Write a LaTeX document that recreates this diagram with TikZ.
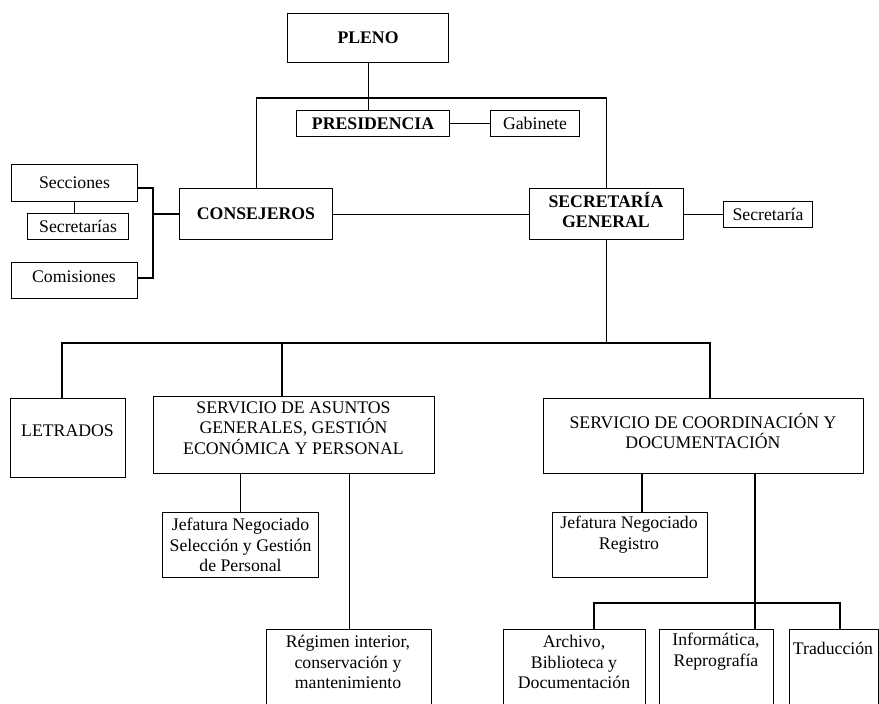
\documentclass[tikz,border=0pt]{standalone}
\usepackage{fontspec}
\setmainfont{Liberation Serif}
\edef\px{0.025cm}

\begin{document}
\begin{tikzpicture}[x=\px, y=-\px,
  font=\fontsize{12.6}{14.7}\selectfont,
  box/.style={draw, line width=0.75pt, inner sep=0pt, anchor=north west, align=center},
  lbl/.style={align=center, inner sep=0pt},
  link/.style={line width=0.75pt}]
  \useasboundingbox (0,0) rectangle (879,703);
  \clip (0,0) rectangle (879,703);

  % the top of the chart
  \node[box, minimum width=161*\px, minimum height=49*\px] (pleno) at (287,13) {\textbf{PLENO}};
  \node[box, minimum width=153*\px, minimum height=26*\px] (pres) at (296,110) {\textbf{PRESIDENCIA}};
  \node[box, minimum width=89*\px, minimum height=26*\px] (gab) at (490,110) {Gabinete};
  \node[box, minimum width=153*\px, minimum height=51*\px] (cons) at (179,188) {\textbf{CONSEJEROS}};
  \node[box, minimum width=154*\px, minimum height=51*\px] (sg) at (529,188) {};
  \node[lbl] (sg-t) at (606,210) {\textbf{SECRETARÍA}\\\textbf{GENERAL}};
  \node[box, minimum width=89*\px, minimum height=26*\px] (secr) at (723,201) {Secretaría};

  % the group on the left
  \node[box, minimum width=126*\px, minimum height=37*\px] (secc) at (11,164) {Secciones};
  \node[box, minimum width=101*\px, minimum height=26*\px] (secs) at (27,213) {Secretarías};
  \node[box, minimum width=126*\px, minimum height=36*\px] (comi) at (11,262) {};
  \node[lbl] (comi-t) at (74,277) {Comisiones};

  % the services
  \node[box, minimum width=115*\px, minimum height=79*\px] (letr) at (10,398) {};
  \node[lbl] (letr-t) at (67.5,431) {LETRADOS};
  \node[box, minimum width=281*\px, minimum height=77*\px] (sag) at (153,396) {};
  \node[lbl] (sag-t) at (293.5,428) {SERVICIO DE ASUNTOS\\GENERALES, GESTIÓN\\ECONÓMICA Y PERSONAL};
  \node[box, minimum width=320*\px, minimum height=75*\px] (scd) at (543,398) {};
  \node[lbl] (scd-t) at (703,431) {SERVICIO DE COORDINACIÓN Y\\DOCUMENTACIÓN};

  % the sections below
  \node[box, minimum width=156*\px, minimum height=65*\px] (jsgp) at (162,512) {Jefatura Negociado\\Selección y Gestión\\de Personal};
  \node[box, minimum width=155*\px, minimum height=65*\px] (jreg) at (552,512) {};
  \node[lbl] (jreg-t) at (629,534.5) {Jefatura Negociado\\Registro};
  \node[box, minimum width=165*\px, minimum height=120*\px] (reg) at (266,629) {};
  \node[lbl] (reg-t) at (348,662) {Régimen interior,\\conservación y\\mantenimiento};
  \node[box, minimum width=142*\px, minimum height=120*\px] (arch) at (503,629) {};
  \node[lbl] (arch-t) at (574,662) {Archivo,\\Biblioteca y\\Documentación};
  \node[box, minimum width=114*\px, minimum height=120*\px] (info) at (659,629) {};
  \node[lbl] (info-t) at (716,651.5) {Informática,\\Reprografía};
  \node[box, minimum width=89*\px, minimum height=120*\px] (trad) at (789,629) {};
  \node[lbl] (trad-t) at (833,648) {Traducción};

  % where the lines turn
  \coordinate (top) at (0,98);
  \coordinate (brkT) at (153,188);
  \coordinate (brk) at (153,214);
  \coordinate (brkB) at (153,278);
  \coordinate (busL) at (62,343);
  \coordinate (busM) at (282,343);
  \coordinate (busR) at (710,343);
  \coordinate (k1) at (642,0);
  \coordinate (k2) at (755,603);
  \coordinate (k3) at (594,603);
  \coordinate (k4) at (840,603);

  % draw the lines
  \draw[link] (pleno.south) -- (pleno.south |- pres.north);
  \draw[link] (cons.north) -- (cons.north |- top) -- (sg.north |- top) -- (sg.north);
  \draw[link] (pres.east) -- (gab.west);
  \draw[link] (cons.east) -- (sg.west);
  \draw[link] (sg.east |- secr.west) -- (secr.west);
  \draw[link] (secc.south) -- (secc.south |- secs.north);
  \draw[link] (secc.east |- brkT) -- (brkT) -- (brkB) -- (comi.east |- brkB);
  \draw[link] (brk) -- (brk -| cons.west);
  \draw[link] (sg.south) -- (sg.south |- busL);
  \draw[link] (letr.north -| busL) -- (busL) -- (busR) -- (scd.north -| busR);
  \draw[link] (busM) -- (busM |- sag.north);
  \draw[link] (jsgp.north) -- (jsgp.north |- sag.south);
  \draw[link] (reg.north) -- (reg.north |- sag.south);
  \draw[link] (scd.south -| k1) -- (jreg.north -| k1);
  \draw[link] (scd.south -| k2) -- (info.north -| k2);
  \draw[link] (arch.north -| k3) -- (k3) -- (k4) -- (trad.north -| k4);
\end{tikzpicture}
\end{document}
